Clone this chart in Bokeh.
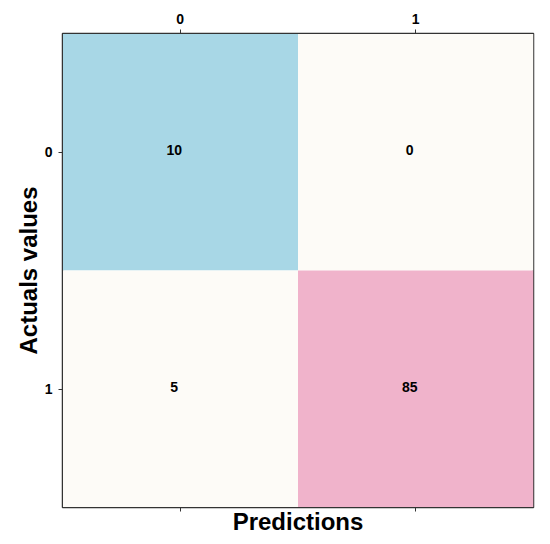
from bokeh.plotting import figure
from bokeh.models import ColumnDataSource, LinearAxis, FixedTicker, Range1d
from bokeh.embed import file_html
from bokeh.resources import INLINE
from bokeh.core.properties import value

# data
pred = [0, 1, 0, 1]
actual = [0, 0, 1, 1]
counts = [10, 0, 5, 85]
colors = ["#a8d7e6", "#fdfbf7", "#fdfbf7", "#f0b3cb"]
tick_labels = {0: "0", 1: "1"}

src = ColumnDataSource(dict(x=pred, y=actual, c=colors,
                            t=[str(v) for v in counts]))

FONT = "Liberation Sans"

p = figure(width=545, height=537, output_backend="svg", toolbar_location=None,
           x_range=Range1d(-0.5, 1.5), y_range=Range1d(1.5, -0.5),
           x_axis_location=None, y_axis_location=None,
           min_border_left=62, min_border_right=12, min_border_top=33,
           min_border_bottom=0)
p.grid.visible = False
p.outline_line_color = "#333333"
p.outline_line_width = 1.5
p.background_fill_color = "white"

p.rect(x="x", y="y", width=1, height=1, fill_color="c", line_color=None, source=src)
p.text(x="x", y="y", text="t", source=src, text_align="center",
       text_baseline="middle", text_font=value(FONT), text_font_style="bold",
       text_font_size="14px", text_color="black", x_offset=-6, y_offset=-2)

def style(ax):
    ax.ticker = FixedTicker(ticks=[0, 1])
    ax.major_label_overrides = tick_labels
    ax.minor_tick_line_color = None
    ax.major_tick_out = 4
    ax.major_tick_in = 0
    ax.axis_line_color = "#333333"
    ax.major_tick_line_color = "#333333"
    ax.major_label_text_font = FONT
    ax.major_label_text_font_style = "bold"
    ax.major_label_text_font_size = "14px"
    ax.major_label_text_color = "black"
    ax.axis_label_text_font = FONT
    ax.axis_label_text_font_style = "bold"
    ax.axis_label_text_font_size = "24px"
    ax.axis_label_text_color = "black"

top = LinearAxis()
style(top)
top.major_label_standoff = 6
p.add_layout(top, "above")

bottom = LinearAxis(axis_label="Predictions")
style(bottom)
bottom.major_label_overrides = {0: "", 1: ""}
bottom.major_label_text_font_size = "1px"
bottom.major_label_standoff = 0
bottom.axis_label_standoff = -4
p.add_layout(bottom, "below")

left = LinearAxis(axis_label="Actuals values")
style(left)
left.major_label_orientation = 0
left.major_label_standoff = 6
left.axis_label_standoff = 0
p.add_layout(left, "left")

open("out.html", "w").write(file_html(p, INLINE))
